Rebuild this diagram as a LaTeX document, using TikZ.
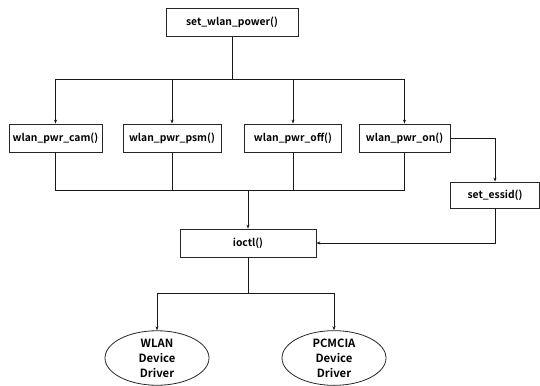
\documentclass[tikz,border=0pt]{standalone}
\usepackage{fontspec}
\setmainfont{Noto Sans CJK KR}[BoldFont={Noto Sans CJK KR Bold}]
\usetikzlibrary{shapes.geometric,arrows.meta}
\begin{document}
\begin{tikzpicture}[x=1pt,y=-1pt,
  box/.style={draw=black!85,line width=0.8pt,rectangle,minimum height=28pt,inner sep=0pt,font=\fontsize{10.3}{14}\selectfont\bfseries},
  drv/.style={draw=black!85,line width=0.8pt,ellipse,minimum width=104pt,minimum height=52pt,inner sep=0pt,align=center,font=\fontsize{11.3}{15}\selectfont\bfseries},
  ln/.style={line width=0.9pt,black!90},
  arr/.style={ln,-{Stealth[length=4pt,width=3pt]}}]
\useasboundingbox (0,0) rectangle (540,385);
\node[box,minimum width=132pt] (pw) at (232,22.5) {set\_wlan\_power()};
\node[box,minimum width=93pt] (cam) at (55.5,138) {wlan\_pwr\_cam()};
\node[box,minimum width=98pt] (psm) at (172,138) {wlan\_pwr\_psm()};
\node[box,minimum width=97pt] (off) at (293,138) {wlan\_pwr\_off()};
\node[box,minimum width=91pt] (on) at (404.5,138) {wlan\_pwr\_on()};
\node[box,minimum width=89pt,minimum height=26pt] (essid) at (495,195) {set\_essid()};
\node[box,minimum width=136pt] (ioctl) at (248,243) {ioctl()};
\node[drv] (wlan) at (157,358) {WLAN\\Device\\Driver};
\node[drv] (pcm) at (334,358) {PCMCIA\\Device\\Driver};
\coordinate (b1) at (232,79);
\coordinate (b2) at (248,190);
\coordinate (b3) at (248,293);
% top fan-out
\draw[ln] (pw.south) -- (b1);
\draw[ln] (cam.north |- b1) -- (on.north |- b1);
\draw[arr] (cam.north |- b1) -- (cam.north);
\draw[arr] (psm.north |- b1) -- (psm.north);
\draw[arr] (off.north |- b1) -- (off.north);
\draw[arr] (on.north |- b1) -- (on.north);
% collect
\draw[ln] (cam.south) -- (cam.south |- b2) -- (on.south |- b2) -- (on.south);
\draw[ln] (psm.south) -- (psm.south |- b2);
\draw[ln] (off.south) -- (off.south |- b2);
\draw[arr] (b2) -- (ioctl.north);
% essid path
\draw[arr] (on.east) -- (on.east -| essid.north) -- (essid.north);
\draw[arr] (essid.south) |- (ioctl.east);
% drivers
\draw[ln] (ioctl.south) -- (b3);
\draw[ln] (wlan.north |- b3) -- (pcm.north |- b3);
\draw[arr] (wlan.north |- b3) -- (wlan.north);
\draw[arr] (pcm.north |- b3) -- (pcm.north);
\end{tikzpicture}
\end{document}
